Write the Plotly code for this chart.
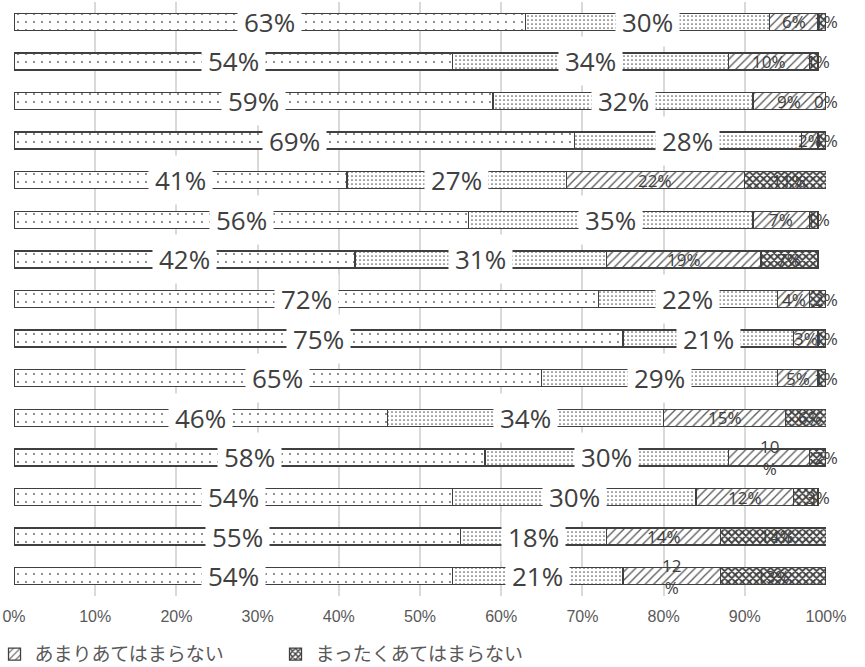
import plotly.graph_objects as go

# Survey items (top to bottom) and share of each answer, in percent
items = [f"項目{i}" for i in range(1, 16)]
answer_names = ["とてもあてはまる", "ややあてはまる", "あまりあてはまらない", "まったくあてはまらない"]
very_true = [63, 54, 59, 69, 41, 56, 42, 72, 75, 65, 46, 58, 54, 55, 54]
somewhat_true = [30, 34, 32, 28, 27, 35, 31, 22, 21, 29, 34, 30, 30, 18, 21]
not_very_true = [6, 10, 9, 2, 22, 7, 19, 4, 3, 5, 15, 10, 12, 14, 12]
not_true_at_all = [1, 1, 0, 1, 11, 1, 7, 2, 1, 1, 6, 2, 3, 14, 13]
tick_values = [0, 10, 20, 30, 40, 50, 60, 70, 80, 90, 100]
tick_labels = [f"{v}%" for v in tick_values]

series = [very_true, somewhat_true, not_very_true, not_true_at_all]

# Fill pattern per answer: sparse dots, dense dots, diagonal hatch, checker
patterns = [
    dict(shape=".", size=8, solidity=0.04, fgcolor="#595959", bgcolor="white", fillmode="replace"),
    dict(shape=".", size=4, solidity=0.14, fgcolor="#595959", bgcolor="white", fillmode="replace"),
    dict(shape="/", size=6, solidity=0.22, fgcolor="#595959", bgcolor="white", fillmode="replace"),
    dict(shape="x", size=5, solidity=0.6, fgcolor="#404040", bgcolor="white", fillmode="replace"),
]

y_pos = list(range(len(items)))
LABEL_FONT = "Open Sans, Noto Sans, sans-serif"
JP_FONT = "Noto Sans CJK JP, sans-serif"

fig = go.Figure()
for k, (name, vals) in enumerate(zip(answer_names, series)):
    fig.add_trace(go.Bar(
        x=vals, y=y_pos, orientation="h", name=name,
        width=0.43,
        marker=dict(color="white", pattern=patterns[k],
                    line=dict(color="#404040", width=1.3)),
        showlegend=k >= 2,
        hoverinfo="skip",
    ))

# Labels wrapped onto two lines (narrow segments)
wrapped = {(11, 2), (14, 2)}

annotations = []
for i in y_pos:
    left = 0
    for k, vals in enumerate(series):
        v = vals[i]
        center = left + v / 2
        text = f"{v}%"
        if (i, k) in wrapped:
            text = f"{v}<br>%"
        if k < 2:
            annotations.append(dict(
                x=center, y=i, xref="x", yref="y", text=text, showarrow=False,
                font=dict(family=LABEL_FONT, size=26, color="#404040"),
                bgcolor="white", borderpad=6,
            ))
        else:
            # very thin end segments get their label pushed to the bar's end
            x_lab = left + v if (k == 3 and v <= 3) else center
            annotations.append(dict(
                x=x_lab, y=i, xref="x", yref="y", text=text, showarrow=False,
                font=dict(family=LABEL_FONT, size=17, color="#404040"),
            ))
        left += v

fig.update_layout(
    barmode="stack",
    width=865, height=667,
    margin=dict(l=14, r=39, t=2, b=71, autoexpand=False),
    paper_bgcolor="white", plot_bgcolor="white",
    annotations=annotations,
    xaxis=dict(range=[0, 100], tickvals=tick_values, ticktext=tick_labels,
               showgrid=True, gridcolor="#d9d9d9", gridwidth=1.5,
               zeroline=False, showline=False,
               tickfont=dict(family="Liberation Sans Narrow, Arial Narrow, sans-serif",
                             size=16, color="#595959"),
               ticks="", ticklabelstandoff=9),
    yaxis=dict(range=[14.5, -0.5], showticklabels=False, showgrid=False,
               zeroline=False, showline=False),
    legend=dict(orientation="h", x=-0.024, xanchor="left", y=-0.098, yanchor="middle",
                font=dict(family=JP_FONT, size=19, color="#595959"),
                itemwidth=30, entrywidth=236, entrywidthmode="pixels",
                traceorder="normal"),
    font=dict(family=JP_FONT),
)

fig.write_html("out.html")
